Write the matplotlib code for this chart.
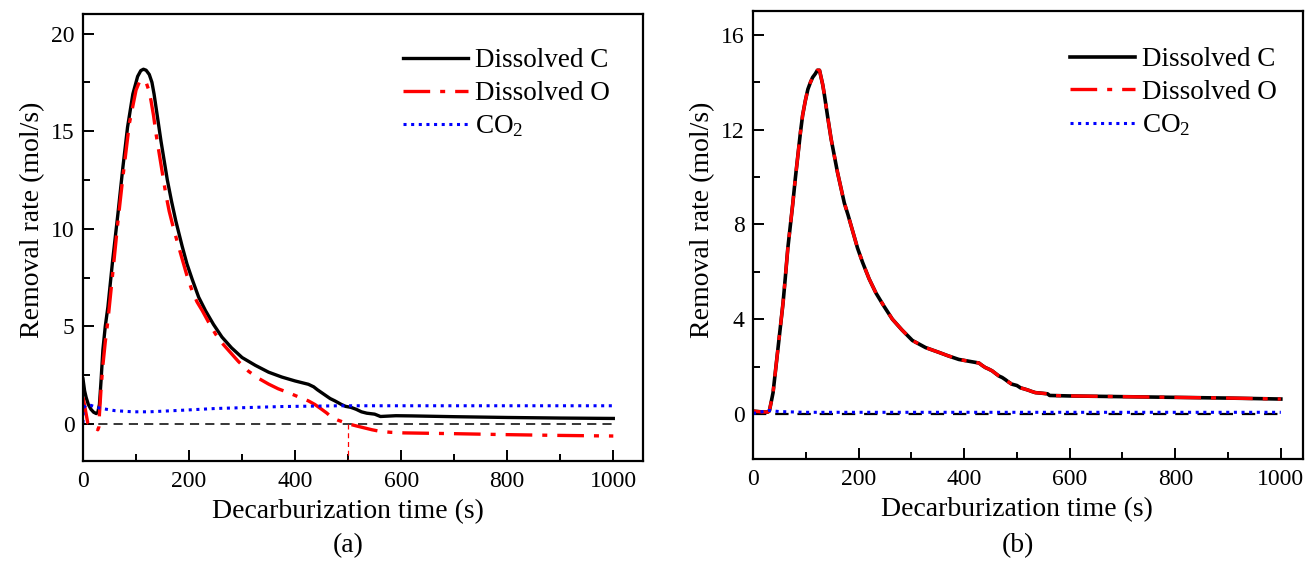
import numpy as np
import matplotlib
matplotlib.use("Agg")
import matplotlib.pyplot as plt
from matplotlib.ticker import MultipleLocator

plt.rcParams['font.family'] = ['Liberation Serif', 'DejaVu Serif']
plt.rcParams['mathtext.fontset'] = 'custom'
plt.rcParams['mathtext.rm'] = 'Liberation Serif'
plt.rcParams['mathtext.it'] = 'Liberation Serif:italic'

# --- panel (a) data ---
t_a_c = [0, 3, 6, 10, 15, 20, 25, 28, 31, 34, 37.5, 42, 47, 56, 66, 75, 84, 94, 103,
         109, 114, 119, 125, 130, 134, 140, 147, 153, 159, 167, 175, 187, 196, 206,
         218, 231, 246, 262, 280, 300, 325, 350, 375, 400, 425, 435, 442, 450, 458,
         466, 475, 487, 495, 505, 515, 525, 535, 550, 561, 575, 590, 620, 700, 800,
         900, 1000]
c_a = [2.3, 1.7, 1.35, 1.0, 0.75, 0.6, 0.53, 0.6, 1.0, 2.2, 3.8, 5.0, 6.0, 8.4, 10.8,
       13.1, 15.2, 16.9, 17.8, 18.1, 18.17, 18.12, 17.9, 17.5, 16.9, 15.8, 14.5, 13.5,
       12.5, 11.4, 10.4, 9.1, 8.2, 7.4, 6.5, 5.8, 5.1, 4.45, 3.9, 3.4, 3.0, 2.65, 2.4,
       2.2, 2.03, 1.9, 1.75, 1.6, 1.45, 1.3, 1.18, 1.0, 0.9, 0.85, 0.75, 0.62, 0.55,
       0.5, 0.38, 0.4, 0.42, 0.41, 0.37, 0.33, 0.3, 0.28]

t_a_o = [0, 3, 6, 9, 15, 22, 28, 30, 31, 34, 37.5, 42, 47, 56, 66, 75, 87.5, 100, 106,
         111, 115, 119, 124, 128, 133, 137.5, 144, 150, 156, 162.5, 169, 175, 187.5,
         196, 206, 215, 225, 237, 250, 262, 275, 293, 312, 330, 350, 368, 387.5, 405,
         425, 437, 450, 460, 469, 480, 490, 501, 515, 530, 545, 560, 580, 605, 700,
         800, 900, 1000]
o_a = [1.35, 0.95, 0.5, 0.05, -0.08, -0.18, -0.3, -0.15, 0.5, 1.8, 3.0, 4.2, 5.3, 7.7,
       10.4, 12.6, 15.4, 17.1, 17.5, 17.6, 17.6, 17.5, 17.1, 16.6, 15.8, 14.9, 13.8,
       12.8, 11.8, 10.9, 10.2, 9.6, 8.4, 7.6, 6.8, 6.25, 5.8, 5.2, 4.6, 4.15, 3.75,
       3.2, 2.7, 2.35, 2.04, 1.8, 1.6, 1.4, 1.18, 1.0, 0.75, 0.55, 0.33, 0.2, 0.1, 0.0,
       -0.1, -0.2, -0.3, -0.38, -0.43, -0.46, -0.5, -0.55, -0.59, -0.62]

t_a_co2 = [0, 0.5, 5, 15, 25, 37.5, 60, 94, 125, 187, 250, 312, 375, 487, 600, 800,
           1000]
co2_a = [0.05, 0.8, 0.95, 0.95, 0.85, 0.78, 0.68, 0.62, 0.62, 0.7, 0.79, 0.84, 0.89,
         0.93, 0.93, 0.93, 0.93]

# --- panel (b) data ---
t_b = [0, 10, 20, 28, 31, 34, 38, 42, 47, 52, 57, 61, 66, 70, 75.5, 80, 85, 90, 94,
       99, 104, 109, 113, 118, 122, 126, 129, 132, 135, 141, 148, 154, 160, 166, 173,
       180, 189, 198, 207.5, 220, 233, 248, 264, 282, 302, 327, 352, 370, 390, 410,
       428, 434, 440, 446, 453, 460, 466, 472, 478, 484, 490, 500, 507, 515, 522, 528,
       535, 545, 558, 562, 600, 700, 800, 900, 1000]
c_b = [0.12, 0.1, 0.08, 0.08, 0.13, 0.45, 0.9, 1.7, 2.7, 3.7, 4.7, 5.7, 7.0, 7.8, 8.9,
       9.9, 10.9, 11.9, 12.6, 13.2, 13.7, 14.0, 14.2, 14.35, 14.5, 14.5, 14.2, 13.9,
       13.5, 12.6, 11.6, 10.9, 10.2, 9.6, 8.9, 8.4, 7.7, 7.0, 6.4, 5.7, 5.1, 4.55, 4.0,
       3.55, 3.1, 2.8, 2.6, 2.45, 2.3, 2.22, 2.15, 2.05, 1.96, 1.9, 1.82, 1.7, 1.6,
       1.54, 1.45, 1.35, 1.26, 1.2, 1.1, 1.05, 1.0, 0.95, 0.9, 0.88, 0.85, 0.78, 0.76,
       0.73, 0.7, 0.67, 0.63]
o_b = c_b

t_b_co2 = [0, 30, 50, 100, 1000]
co2_b = [0.02, 0.15, 0.1, 0.07, 0.07]

xticks = [0, 200, 400, 600, 800, 1000]

fig = plt.figure(figsize=(13.09, 5.61), dpi=100)
ax_a = fig.add_axes([83/1309, 1 - 461/561, 560/1309, 447/561])
ax_b = fig.add_axes([753/1309, 1 - 459/561, 550/1309, 448/561])

dashdot = (0, (8, 3, 1.5, 3))


def style_axes(ax, xmax, ylim, ymaj, ymin, ylab_y):
    ax.set_xlim(0, xmax)
    ax.set_ylim(*ylim)
    ax.set_xticks(xticks)
    ax.xaxis.set_minor_locator(MultipleLocator(100))
    ax.yaxis.set_major_locator(MultipleLocator(ymaj))
    ax.yaxis.set_minor_locator(MultipleLocator(ymin))
    ax.tick_params(which='both', direction='in', top=False, right=False,
                   labelsize=17, width=1.4)
    ax.tick_params(axis='x', which='both', pad=7.5)
    ax.tick_params(axis='y', which='both', pad=6)
    ax.tick_params(which='major', length=8)
    ax.tick_params(which='minor', length=5)
    for s in ax.spines.values():
        s.set_linewidth(1.6)
    ax.set_xlabel('Decarburization time (s)', fontsize=20, labelpad=5)
    ax.set_ylabel('Removal rate (mol/s)', fontsize=20, labelpad=4)
    ax.xaxis.label.set_x(500 / xmax)
    ax.yaxis.label.set_y(ylab_y)


# panel (a)
ax_a.plot([0, 1000], [0, 0], color='black', lw=1.1, ls=(0, (6, 4)))
ax_a.plot([500, 500], [0, -1.9], color='red', lw=0.9, ls=(0, (4, 3)))
ax_a.plot(t_a_c, c_a, color='black', lw=2.4, label='Dissolved C')
ax_a.plot(t_a_o, o_a, color='red', lw=2.4, ls=dashdot, label='Dissolved O')
ax_a.plot(t_a_co2, co2_a, color='blue', lw=2.2, ls=(0, (1, 1.5)), label='CO$_2$')
style_axes(ax_a, 1056, (-1.9, 21), 5, 2.5, 0.539)

# panel (b)
ax_b.plot([0, 1000], [0, 0], color='black', lw=1.6, ls=(0, (6, 4)))
ax_b.plot(t_b, c_b, color='black', lw=2.6, label='Dissolved C')
ax_b.plot(t_b, o_b, color='red', lw=2.4, ls=dashdot, label='Dissolved O')
ax_b.plot(t_b_co2, co2_b, color='blue', lw=2.2, ls=(0, (1, 1.5)), label='CO$_2$')
style_axes(ax_b, 1042, (-1.9, 17), 4, 2, 0.533)

for ax, x0, y0 in [(ax_a, 0.571, 0.923), (ax_b, 0.576, 0.919)]:
    ax.legend(loc='upper left', bbox_to_anchor=(x0, y0), frameon=False,
              fontsize=19.5, handlelength=2.4, handletextpad=0.25,
              labelspacing=0.28, borderpad=0, borderaxespad=0)

fig.text(348/1309, 1 - 546/561, '(a)', fontsize=20, ha='center', va='center')
fig.text(1018/1309, 1 - 546/561, '(b)', fontsize=20, ha='center', va='center')

fig.savefig('out.png', dpi=100)
